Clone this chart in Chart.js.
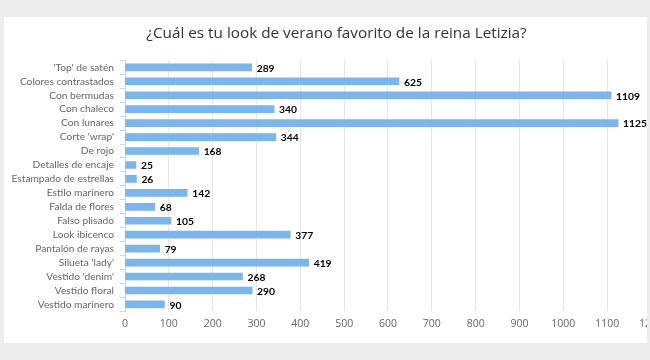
<!DOCTYPE html>
<html>
<head>
<meta charset="utf-8">
<script src="https://cdn.jsdelivr.net/npm/chart.js@4.4.1/dist/chart.umd.min.js"></script>
<style>
  body { margin: 0; background: #ededed; }
  /* panel blanco, recorta el eje a la derecha como en la imagen */
  #panel { position: absolute; left: 4px; top: 17px; width: 643px; height: 326px; overflow: hidden; background: #fff; }
  #wrap { position: absolute; left: 0; top: 0; width: 665px; height: 326px; }
</style>
</head>
<body>
<div id="panel"><div id="wrap"><canvas id="myChart"></canvas></div></div>
<script>
// datos de la encuesta
const categorias = ["'Top' de satén", "Colores contrastados", "Con bermudas", "Con chaleco", "Con lunares",
  "Corte 'wrap'", "De rojo", "Detalles de encaje", "Estampado de estrellas", "Estilo marinero",
  "Falda de flores", "Falso plisado", "Look ibicenco", "Pantalón de rayas", "Silueta 'lady'",
  "Vestido 'denim'", "Vestido floral", "Vestido marinero"];
const votos = [289, 625, 1109, 340, 1125, 344, 168, 25, 26, 142, 68, 105, 377, 79, 419, 268, 290, 90];
const titulo = "¿Cuál es tu look de verano favorito de la reina Letizia?";

const FONT = "'Open Sans', sans-serif";
const FONT_LBL = "Lato, 'Open Sans', sans-serif";

/* dibuja el número al final de cada barra */
const etiquetas = {
  id: 'etiquetas',
  afterDatasetsDraw(chart) {
    const ctx = chart.ctx;
    const meta = chart.getDatasetMeta(0);
    ctx.save();
    ctx.font = "bold 10.3px " + FONT_LBL;
    ctx.fillStyle = "#000";
    ctx.textBaseline = "middle";
    ctx.textAlign = "left";
    meta.data.forEach((bar, i) => {
      ctx.fillText(votos[i], bar.x + 5, bar.y + 1);
    });
    ctx.restore();
  }
};

new Chart(document.getElementById("myChart"), {
  type: "bar",
  data: {
    labels: categorias,
    datasets: [{
      data: votos,
      backgroundColor: "#7cb5ec",
      barThickness: 7
    }]
  },
  options: {
    indexAxis: "y",
    responsive: true,
    maintainAspectRatio: false,
    animation: false,
    layout: { padding: { left: 0, right: 0, top: 0, bottom: 7 } },
    plugins: {
      legend: { display: false },
      tooltip: { enabled: false },
      title: {
        display: true,
        text: titulo,
        color: "#333",
        font: { family: FONT, size: 15.3, weight: "normal" },
        padding: { top: 7, bottom: 18 }
      }
    },
    scales: {
      x: {
        min: 0, max: 1200,
        ticks: { stepSize: 100, color: "#666", font: { family: FONT, size: 10.5 }, padding: 6,
          callback: (v) => String(v) },
        grid: { color: "#e6e6e6", drawTicks: false },
        border: { display: false }
      },
      y: {
        ticks: { color: "#666", font: { family: FONT_LBL, size: 10.2 }, padding: 6, autoSkip: false },
        grid: { drawOnChartArea: false, tickLength: 5, color: "#ccd6eb" },
        border: { color: "#ccd6eb" },
        afterFit(scale) { scale.width = 121; }
      }
    }
  },
  plugins: [etiquetas]
});
</script>
</body>
</html>
